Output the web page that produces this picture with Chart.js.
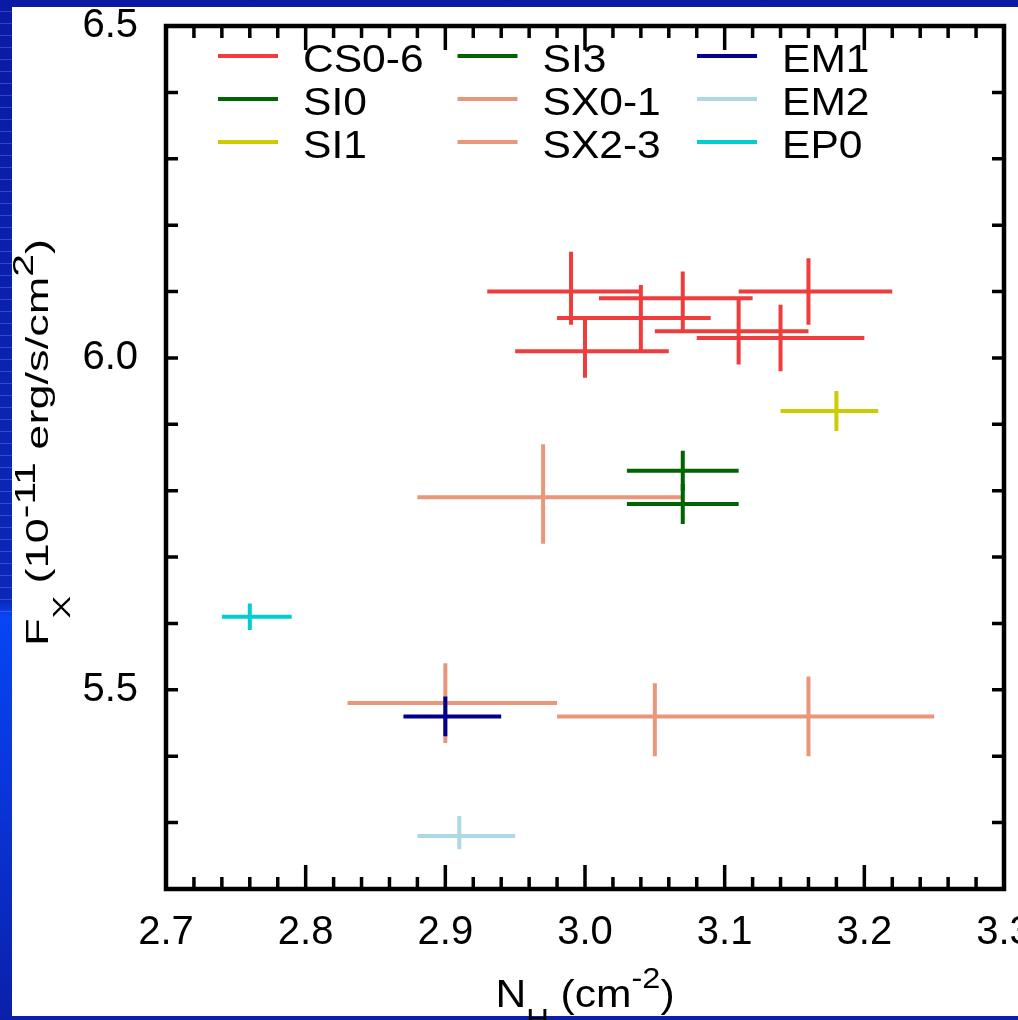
<!DOCTYPE html>
<html><head><meta charset="utf-8">
<script src="https://cdn.jsdelivr.net/npm/chart.js@4.4.0/dist/chart.umd.min.js"></script>
<style>
html,body{margin:0;padding:0;width:1018px;height:1020px;overflow:hidden;}
body{position:relative;background:linear-gradient(to bottom,#0a1aa4 0px,#0b28b8 600px,#0646f4 617px,#0a34d8 800px,#0a20a8 1020px);}
#lines{position:absolute;left:0;top:0;width:12px;height:617px;background:repeating-linear-gradient(to bottom,transparent 0 11px,rgba(120,150,255,0.35) 11px 12px);}
#paper{position:absolute;left:12px;top:7px;width:1006px;height:1009px;background:#fff;}
#wrap{position:absolute;left:0;top:0;width:1018px;height:1020px;}
</style></head><body>
<div id="lines"></div><div id="paper"></div>
<div id="wrap"><canvas id="c" width="1018" height="1020"></canvas></div>
<script>
// ---- data (N_H in 10^22 cm^-2 units, F_X in 10^-11 erg/s/cm^2) ----
const seriesLabels = ['CS0-6','SI0','SI1','SI3','SX0-1','SX2-3','EM1','EM2','EP0'];
const seriesColors = ['#f03c3c','#006400','#cccc00','#006400','#e9967a','#e9967a','#00008b','#add8e6','#00ced1'];

const CS_nh   = [2.99, 3.04, 3.00, 3.07, 3.11, 3.14, 3.16];
const CS_nhLo = [2.93, 2.98, 2.95, 3.01, 3.05, 3.08, 3.11];
const CS_nhHi = [3.04, 3.09, 3.06, 3.12, 3.16, 3.20, 3.22];
const CS_fx   = [6.10, 6.06, 6.01, 6.09, 6.04, 6.03, 6.10];
const CS_fxLo = [6.05, 6.01, 5.97, 6.04, 5.99, 5.98, 6.05];
const CS_fxHi = [6.16, 6.11, 6.06, 6.13, 6.09, 6.08, 6.15];

const SI0_nh = [3.07], SI0_nhLo = [3.03], SI0_nhHi = [3.11];
const SI0_fx = [5.83], SI0_fxLo = [5.80], SI0_fxHi = [5.86];

const SI1_nh = [3.18], SI1_nhLo = [3.14], SI1_nhHi = [3.21];
const SI1_fx = [5.92], SI1_fxLo = [5.89], SI1_fxHi = [5.95];

const SI3_nh = [3.07], SI3_nhLo = [3.03], SI3_nhHi = [3.11];
const SI3_fx = [5.78], SI3_fxLo = [5.75], SI3_fxHi = [5.81];

const SX01_nh   = [2.97, 2.90];
const SX01_nhLo = [2.88, 2.83];
const SX01_nhHi = [3.07, 2.98];
const SX01_fx   = [5.79, 5.48];
const SX01_fxLo = [5.72, 5.42];
const SX01_fxHi = [5.87, 5.54];

const SX23_nh   = [3.05, 3.16];
const SX23_nhLo = [2.98, 3.07];
const SX23_nhHi = [3.12, 3.25];
const SX23_fx   = [5.46, 5.46];
const SX23_fxLo = [5.40, 5.40];
const SX23_fxHi = [5.51, 5.52];

const EM1_nh = [2.90], EM1_nhLo = [2.87], EM1_nhHi = [2.94];
const EM1_fx = [5.46], EM1_fxLo = [5.43], EM1_fxHi = [5.49];

const EM2_nh = [2.91], EM2_nhLo = [2.88], EM2_nhHi = [2.95];
const EM2_fx = [5.28], EM2_fxLo = [5.26], EM2_fxHi = [5.31];

const EP0_nh = [2.76], EP0_nhLo = [2.74], EP0_nhHi = [2.79];
const EP0_fx = [5.61], EP0_fxLo = [5.59], EP0_fxHi = [5.63];

const xTickLabels = ['2.7','2.8','2.9','3.0','3.1','3.2','3.3'];
const yTickLabels = ['5.5','6.0','6.5'];

// ---- build error-bar crosses as line segments ----
function cross(nh, lo, hi, fx, flo, fhi){
  const d = [];
  for (let i = 0; i < nh.length; i++){
    d.push({x:lo[i], y:fx[i]}, {x:hi[i], y:fx[i]}, {x:null, y:null},
           {x:nh[i], y:flo[i]}, {x:nh[i], y:fhi[i]}, {x:null, y:null});
  }
  return d;
}
const seriesData = [
  cross(CS_nh, CS_nhLo, CS_nhHi, CS_fx, CS_fxLo, CS_fxHi),
  cross(SI0_nh, SI0_nhLo, SI0_nhHi, SI0_fx, SI0_fxLo, SI0_fxHi),
  cross(SI1_nh, SI1_nhLo, SI1_nhHi, SI1_fx, SI1_fxLo, SI1_fxHi),
  cross(SI3_nh, SI3_nhLo, SI3_nhHi, SI3_fx, SI3_fxLo, SI3_fxHi),
  cross(SX01_nh, SX01_nhLo, SX01_nhHi, SX01_fx, SX01_fxLo, SX01_fxHi),
  cross(SX23_nh, SX23_nhLo, SX23_nhHi, SX23_fx, SX23_fxLo, SX23_fxHi),
  cross(EM1_nh, EM1_nhLo, EM1_nhHi, EM1_fx, EM1_fxLo, EM1_fxHi),
  cross(EM2_nh, EM2_nhLo, EM2_nhHi, EM2_fx, EM2_fxLo, EM2_fxHi),
  cross(EP0_nh, EP0_nhLo, EP0_nhHi, EP0_fx, EP0_fxLo, EP0_fxHi)
];
const drawOrder = [0,0,0,0,0,0,-1,0,0];

const datasets = seriesLabels.map((lab,i)=>({
  label: lab, data: seriesData[i], showLine: true, spanGaps: false,
  borderColor: seriesColors[i], backgroundColor: seriesColors[i],
  borderWidth: 4, borderCapStyle: 'butt', pointRadius: 0, pointHoverRadius: 0,
  order: drawOrder[i]
}));

const FONT = '"Liberation Sans", Arial, Helvetica, sans-serif';

// ---- frame with inward ticks on all four sides ----
const framePlugin = {
  id: 'frame',
  afterDatasetsDraw(chart){
    const {ctx, chartArea:a, scales:{x, y}} = chart;
    ctx.save();
    ctx.strokeStyle = '#000'; ctx.lineCap = 'butt';
    ctx.lineWidth = 3.5;
    ctx.beginPath();
    const nx = Math.round((x.max - x.min) / 0.02);
    for (let k = 0; k <= nx; k++){
      const v = x.min + k * 0.02;
      const px = x.getPixelForValue(v);
      const len = (k % 5 === 0) ? 24 : 12;
      ctx.moveTo(px, a.bottom); ctx.lineTo(px, a.bottom - len);
      ctx.moveTo(px, a.top); ctx.lineTo(px, a.top + len);
    }
    const ny = Math.round((y.max - y.min) / 0.1);
    for (let k = 0; k <= ny; k++){
      const py = y.getPixelForValue(y.min + k * 0.1);
      ctx.moveTo(a.left, py); ctx.lineTo(a.left + 12, py);
      ctx.moveTo(a.right, py); ctx.lineTo(a.right - 12, py);
    }
    ctx.stroke();
    ctx.lineWidth = 4.5;
    ctx.strokeRect(a.left, a.top, a.right - a.left, a.bottom - a.top);
    ctx.restore();
  }
};

// ---- legend: 3 columns, filled column by column ----
const legendPlugin = {
  id: 'colLegend',
  afterDraw(chart){
    const {ctx, chartArea:a} = chart;
    ctx.save();
    chart.data.datasets.forEach((ds, i) => {
      const col = Math.floor(i / 3), row = i % 3;
      const lx = a.left + 52 + col * 239.5;
      const ly = a.top + 30 + row * 43;
      ctx.strokeStyle = ds.borderColor; ctx.lineWidth = 4; ctx.lineCap = 'butt';
      ctx.beginPath(); ctx.moveTo(lx, ly); ctx.lineTo(lx + 60, ly); ctx.stroke();
      ctx.save();
      ctx.translate(lx + 85, ly + 16);
      ctx.scale(1.12, 1);
      ctx.fillStyle = '#000'; ctx.font = '38px ' + FONT; ctx.textBaseline = 'alphabetic'; ctx.textAlign = 'left';
      ctx.fillText(ds.label, 0, 0);
      ctx.restore();
    });
    ctx.restore();
  }
};

// ---- axis titles with sub/superscripts ----
function richText(ctx, parts, sx){
  let w = 0;
  parts.forEach(p => { ctx.font = p.s + 'px ' + FONT; p.w = ctx.measureText(p.t).width; w += p.w; });
  ctx.scale(sx, 1);
  let cx = -w / 2;
  ctx.fillStyle = '#000'; ctx.textBaseline = 'alphabetic'; ctx.textAlign = 'left';
  parts.forEach(p => { ctx.font = p.s + 'px ' + FONT; ctx.fillText(p.t, cx, p.dy); cx += p.w; });
}
const titlePlugin = {
  id: 'titles',
  afterDraw(chart){
    const {ctx, chartArea:a} = chart;
    ctx.save();
    ctx.translate((a.left + a.right) / 2, a.bottom + 118);
    richText(ctx, [
      {t:'N', s:38, dy:0}, {t:'H', s:28, dy:21}, {t:' (cm', s:38, dy:0},
      {t:'-2', s:29, dy:-19}, {t:')', s:38, dy:0}
    ], 1.12);
    ctx.restore();
    ctx.save();
    ctx.translate(a.left - 118, (a.top + a.bottom) / 2 - 15);
    ctx.rotate(-Math.PI / 2);
    richText(ctx, [
      {t:'F', s:32, dy:0}, {t:'X', s:24, dy:22}, {t:' (10', s:32, dy:0},
      {t:'-11', s:29, dy:-13}, {t:' erg/s/cm', s:32, dy:0}, {t:'2', s:29, dy:-15},
      {t:')', s:32, dy:0}
    ], 1.41);
    ctx.restore();
  }
};

new Chart(document.getElementById('c'), {
  type: 'scatter',
  data: { datasets },
  plugins: [framePlugin, legendPlugin, titlePlugin],
  options: {
    responsive: false, animation: false, devicePixelRatio: 1,
    layout: { padding: { left: 0, top: 26, right: 14, bottom: 0 } },
    plugins: { legend: { display: false }, tooltip: { enabled: false } },
    events: [],
    scales: {
      x: {
        type: 'linear', position: 'bottom', min: 2.7, max: 3.3,
        grid: { display: false, drawTicks: false }, border: { display: false },
        ticks: {
          stepSize: 0.1, autoSkip: false, maxRotation: 0, padding: 20, color: '#000',
          font: { family: FONT, size: 40 },
          callback: v => { const s = Number(v).toFixed(1); return xTickLabels.includes(s) ? s : ''; }
        },
        afterFit: s => { s.height = 131; s.paddingLeft = 0; s.paddingRight = 0; }
      },
      y: {
        type: 'linear', position: 'left', min: 5.2, max: 6.5,
        grid: { display: false, drawTicks: false }, border: { display: false },
        ticks: {
          stepSize: 0.1, autoSkip: false, padding: 28, color: '#000',
          font: { family: FONT, size: 40 },
          callback: v => { const s = Number(v).toFixed(1); return yTickLabels.includes(s) ? s : ''; }
        },
        afterFit: s => { s.width = 166; s.paddingTop = 0; s.paddingBottom = 0; }
      }
    }
  }
});
</script>
</body></html>
